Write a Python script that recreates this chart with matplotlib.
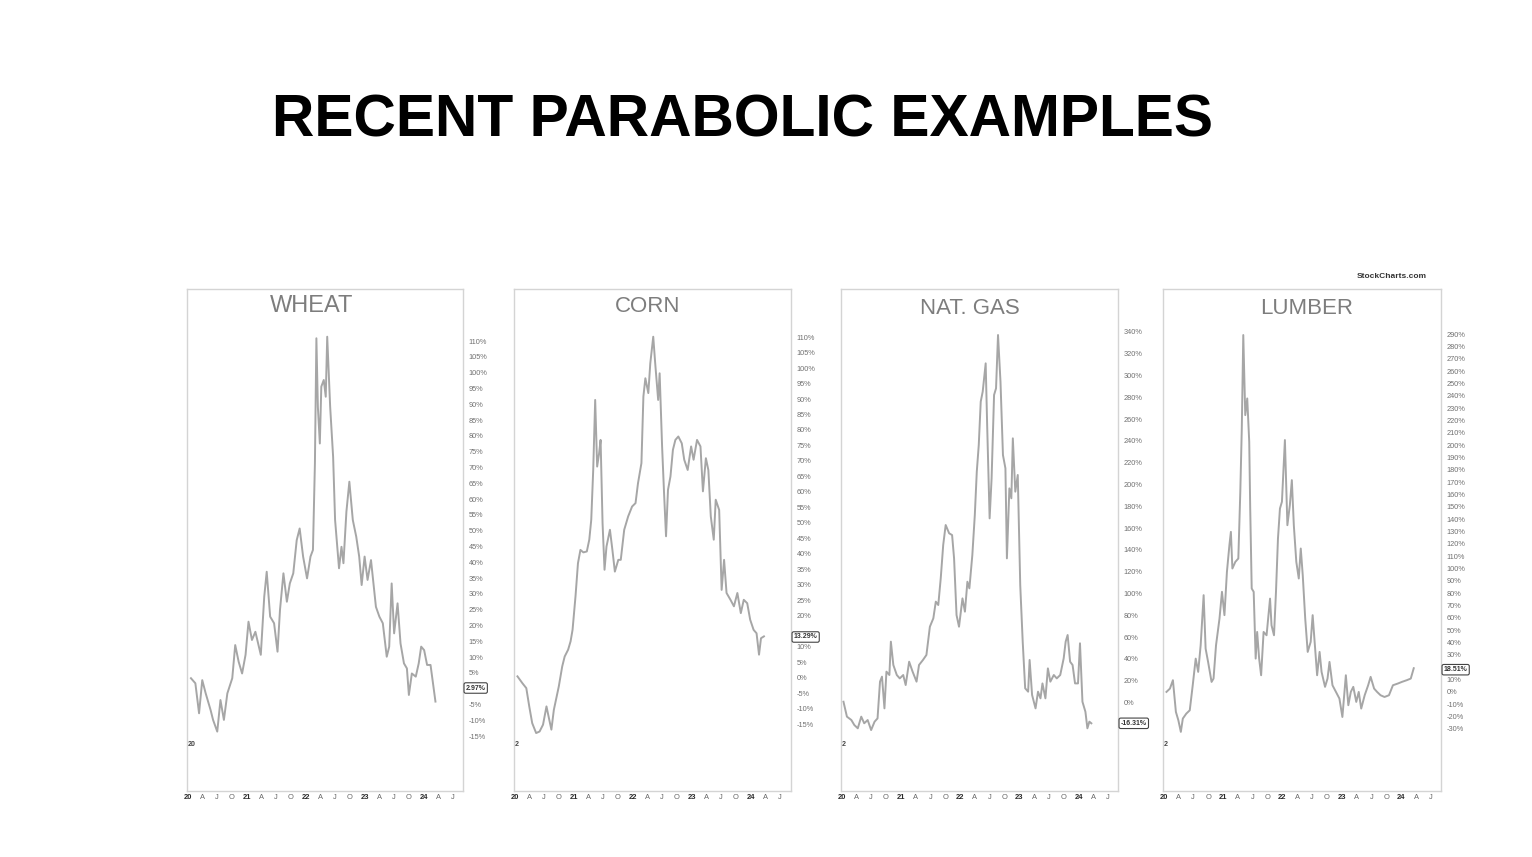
import matplotlib
matplotlib.use("Agg")
import matplotlib.pyplot as plt

plt.rcParams["font.family"] = ["Liberation Sans", "DejaVu Sans"]

# months since Jan 2020 / % change
wheat_months = [0.7, 1.6, 2.35, 3.0, 3.7, 4.7, 5.2, 6.05, 6.7, 7.4, 8.1, 9.1, 9.7, 10.4, 11.1, 11.8,
                12.4, 13.1, 13.8, 14.9, 15.6, 16.1, 16.8, 17.6, 18.3, 18.8, 19.5, 20.2, 20.8, 21.5,
                22.2, 22.8, 23.5, 24.3, 25.0, 25.5, 25.9, 26.2, 26.5, 26.9, 27.2, 27.7, 28.1, 28.4,
                29.0, 29.6, 30.0, 30.8, 31.3, 31.7, 32.3, 32.9, 33.6, 34.3, 34.9, 35.4, 36.0, 36.6,
                37.3, 37.8, 38.3, 39.0, 39.7, 40.5, 41.0, 41.5, 42.0, 42.7, 43.3, 44.0, 44.6, 45.0,
                45.6, 46.4, 47.0, 47.5, 48.1, 48.7, 49.4, 49.9, 50.4]
wheat_pct = [3.3, 1.7, -7.8, 2.7, -1.5, -6.8, -9.9, -13.6, -3.6, -9.9, -1.5, 3.3, 13.8, 8.5, 4.8, 10.7,
             21.2, 15.4, 18.0, 10.7, 29.1, 37.0, 22.8, 20.7, 11.7, 24.9, 36.5, 27.5, 33.3, 36.5,
             47.0, 50.7, 41.8, 34.9, 41.8, 43.9, 71.3, 110.9, 89.2, 77.6, 95.6, 97.7, 92.4, 111.4,
             89.2, 73.4, 53.4, 38.1, 44.9, 39.7, 56.0, 65.5, 53.4, 48.1, 41.8, 32.8, 41.8, 34.4,
             40.7, 33.3, 25.9, 22.8, 20.7, 10.1, 13.3, 33.3, 17.5, 27.0, 14.3, 8.0, 6.4, -2.0,
             4.8, 3.8, 8.0, 13.3, 12.2, 7.5, 7.5, 1.7, -4.1]

corn_months = [0.6, 1.6, 2.4, 3.0, 3.6, 4.4, 5.1, 5.8, 6.5, 7.0, 7.5, 8.0, 9.0, 9.7, 10.2, 10.9,
               11.4, 11.8, 12.4, 12.9, 13.4, 14.0, 14.7, 15.2, 15.6, 16.0, 16.4, 16.8, 17.2, 17.5,
               17.9, 18.3, 18.7, 19.4, 19.9, 20.4, 21.1, 21.6, 22.3, 23.1, 23.9, 24.6, 25.1, 25.8,
               26.2, 26.6, 27.2, 27.6, 28.2, 28.6, 29.2, 29.5, 30.0, 30.4, 30.8, 31.2, 31.7, 32.2,
               32.7, 33.3, 34.0, 34.5, 35.2, 35.9, 36.4, 37.1, 37.8, 38.3, 38.9, 39.4, 39.9, 40.5,
               40.9, 41.6, 42.1, 42.6, 43.1, 43.9, 44.6, 45.3, 46.0, 46.6, 47.3, 47.9, 48.6, 49.2,
               49.7, 50.1, 50.7]
corn_pct = [0.5, -1.7, -3.3, -9.2, -14.6, -17.8, -17.3, -15.1, -9.2, -13.0, -16.7, -10.3, -2.8, 3.7,
            6.9, 9.1, 11.8, 15.5, 26.3, 37.0, 41.3, 40.5, 40.8, 44.6, 51.0, 67.1, 89.7, 68.2, 72.5,
            76.8, 49.9, 34.9, 42.4, 47.8, 41.3, 34.3, 38.1, 38.1, 47.8, 52.1, 55.3, 56.4, 62.8,
            69.3, 90.8, 96.7, 91.9, 101.5, 110.1, 101.5, 89.7, 98.3, 74.7, 59.6, 45.7, 60.7, 65.0,
            73.6, 76.8, 77.9, 75.7, 70.4, 67.1, 74.7, 70.4, 76.8, 74.7, 60.2, 70.9, 67.1, 52.1,
            44.6, 57.5, 54.2, 28.4, 38.1, 27.4, 25.2, 23.1, 27.4, 20.9, 25.2, 24.1, 18.8, 15.5,
            14.4, 7.5, 12.8, 13.4]

gas_months = [0.4, 1.1, 2.0, 2.6, 3.3, 4.0, 4.6, 5.3, 6.0, 6.7, 7.3, 7.8, 8.2, 8.7, 9.1, 9.7,
              10.0, 10.5, 11.2, 11.8, 12.5, 13.0, 13.7, 14.4, 15.2, 15.7, 16.5, 17.2, 17.9, 18.6,
              19.1, 19.6, 20.1, 20.6, 21.1, 21.8, 22.4, 22.8, 23.3, 23.8, 24.5, 25.0, 25.5, 25.9,
              26.5, 27.0, 27.4, 27.8, 28.2, 28.6, 29.2, 29.5, 30.0, 30.4, 30.9, 31.3, 31.7, 32.2,
              32.7, 33.2, 33.5, 34.0, 34.4, 34.7, 35.2, 35.7, 36.2, 36.7, 37.2, 37.8, 38.1, 38.6,
              39.3, 39.8, 40.3, 40.7, 41.3, 41.8, 42.3, 43.0, 43.6, 44.3, 45.0, 45.4, 45.8, 46.3,
              46.8, 47.3, 47.9, 48.3, 48.8, 49.4, 49.8, 50.2, 50.6]
gas_pct = [0.8, -12.9, -16.0, -20.6, -23.6, -12.9, -19.0, -16.0, -25.2, -17.5, -14.5, 19.2, 23.8,
           -5.3, 28.4, 25.3, 55.9, 34.5, 25.3, 22.2, 25.3, 16.1, 37.5, 28.4, 19.2, 34.5, 39.1,
           43.7, 69.6, 77.3, 92.6, 89.5, 114.0, 144.6, 162.9, 155.3, 153.7, 132.3, 80.3, 69.6,
           95.6, 83.4, 110.9, 104.8, 135.4, 172.1, 211.8, 236.3, 276.1, 285.3, 311.2, 254.7,
           169.0, 205.7, 282.2, 288.3, 337.2, 294.4, 227.1, 214.9, 132.3, 196.5, 187.4, 242.4,
           193.5, 208.8, 107.9, 55.9, 13.1, 10.0, 39.1, 7.0, -5.3, 10.0, 3.9, 17.6, 3.9, 31.4,
           19.2, 25.3, 22.2, 25.3, 40.6, 55.9, 62.0, 37.5, 34.5, 17.6, 17.6, 54.4, 0.8, -8.4,
           -23.6, -17.5, -19.0]

lumber_months = [0.6, 1.3, 1.9, 2.5, 3.0, 3.5, 3.9, 4.6, 5.3, 5.9, 6.5, 7.0, 7.5, 8.1, 8.5, 9.0,
                 9.7, 10.1, 10.6, 11.3, 11.8, 12.3, 12.8, 13.3, 13.6, 13.9, 14.5, 15.1, 15.5, 15.8,
                 16.1, 16.5, 16.9, 17.3, 17.5, 17.8, 18.2, 18.6, 18.9, 19.3, 19.7, 20.2, 20.8, 21.5,
                 21.8, 22.3, 22.7, 23.1, 23.5, 23.9, 24.5, 25.0, 25.5, 25.9, 26.3, 26.8, 27.3, 27.7,
                 28.1, 28.6, 29.1, 29.7, 30.1, 30.6, 31.0, 31.5, 31.9, 32.6, 33.1, 33.5, 34.1, 34.8,
                 35.5, 36.1, 36.8, 37.3, 37.8, 38.3, 38.9, 39.4, 39.9, 40.6, 41.3, 41.8, 42.5, 43.1,
                 43.8, 44.6, 45.5, 46.3, 47.3, 48.1, 49.1, 49.9, 50.5]
lumber_pct = [0.0, 2.7, 9.5, -16.2, -23.0, -32.4, -21.6, -17.6, -14.9, 5.4, 27.0, 16.2, 37.8, 78.4,
              35.1, 24.3, 8.1, 10.8, 37.8, 59.4, 81.1, 62.2, 97.3, 118.9, 129.7, 100.0, 105.4,
              108.1, 162.2, 213.5, 289.2, 224.3, 237.8, 202.7, 148.6, 83.8, 81.1, 27.0, 48.6, 27.0,
              13.5, 48.6, 45.9, 75.6, 54.0, 45.9, 81.1, 124.3, 148.6, 154.1, 204.1, 135.1, 151.4,
              171.6, 135.1, 105.4, 91.9, 116.2, 94.6, 59.4, 32.4, 40.5, 62.2, 35.1, 13.5, 32.4, 16.2,
              4.1, 10.8, 24.3, 5.4, 0.0, -5.4, -20.3, 13.5, -10.8, 0.0, 4.1, -8.1, 0.0, -13.5, -2.7,
              5.4, 12.2, 2.7, 0.0, -2.7, -4.1, -2.7, 5.4, 6.8, 8.1, 9.5, 10.8, 19.2]

quarter_labels = ["20", "A", "J", "O", "21", "A", "J", "O", "22", "A", "J", "O",
                  "23", "A", "J", "O", "24", "A", "J"]

W, H = 1532, 857
fig = plt.figure(figsize=(W / 100, H / 100), dpi=100)
fig.patch.set_facecolor("white")

fig.text(742 / W, 1 - 121 / H, "RECENT PARABOLIC EXAMPLES", ha="center", va="center",
         fontsize=42.3, fontweight="bold", color="black")
fig.text(1392 / W, 1 - 276 / H, "StockCharts.com", ha="center", va="center",
         fontsize=6, fontweight="bold", color="#333333")


def panel(left, right, months, pct, title, title_x, title_y, title_size, ylim, yticks, xlim,
          last_label, last_y, hidden_tick, stub):
    top, bottom = 289, 791
    ax = fig.add_axes([left / W, 1 - bottom / H, (right - left) / W, (bottom - top) / H])
    ax.plot(months, pct, color="#a6a6a6", lw=1.4)
    ax.set_xlim(*xlim)
    ax.set_ylim(*ylim)
    for s in ax.spines.values():
        s.set_color("#d4d4d4")
        s.set_linewidth(1.0)

    # the last-value tag sits on top of one tick label, so that one is left blank
    ax.yaxis.tick_right()
    ax.set_yticks(yticks)
    ax.set_yticklabels(["" if v == hidden_tick else f"{v}%" for v in yticks])
    ax.tick_params(axis="y", length=0, pad=4, labelsize=5.3, labelcolor="#707070")

    ax.set_xticks(range(0, 55, 3))
    ax.set_xticklabels(quarter_labels)
    ax.tick_params(axis="x", length=0, pad=2, labelsize=5.4)
    for lab in ax.get_xticklabels():
        if lab.get_text().isdigit():
            lab.set_color("#2a2a2a")
            lab.set_fontweight("bold")
        else:
            lab.set_color("#666666")

    fig.text(title_x / W, 1 - title_y / H, title, ha="center", va="center",
             fontsize=title_size, color="#7d7d7d")
    ax.text(0.003, 1 - (745 - top) / (bottom - top), stub, transform=ax.transAxes,
            fontsize=5, fontweight="bold", color="#444444", ha="left", va="center")
    ax.text(1.01, last_y, last_label, transform=ax.get_yaxis_transform(), ha="left",
            va="center", fontsize=5, fontweight="bold", color="#333333", clip_on=False,
            bbox=dict(boxstyle="round,pad=0.25", fc="white", ec="#444444", lw=0.8))
    return ax


panel(187, 463, wheat_months, wheat_pct, "WHEAT", 312, 306, 17, (-32.4, 126.5),
      list(range(-15, 111, 5)), (-0.1, 56.0), "2.97%", 0.2, 0, "20")
panel(514, 791, corn_months, corn_pct, "CORN", 648, 306, 16, (-36.5, 125.5),
      list(range(-15, 111, 5)), (-0.1, 56.2), "13.29%", 13.2, 15, "2")
panel(841, 1118, gas_months, gas_pct, "NAT. GAS", 970, 308, 16, (-81.1, 379.4),
      list(range(-20, 341, 20)), (-0.1, 56.0), "-16.31%", -19.0, -20, "2")
panel(1163, 1441, lumber_months, lumber_pct, "LUMBER", 1307, 308, 16, (-80.3, 326.5),
      list(range(-30, 291, 10)), (-0.1, 56.0), "18.51%", 18.0, 20, "2")

fig.savefig("out.png", dpi=100, facecolor="white")
